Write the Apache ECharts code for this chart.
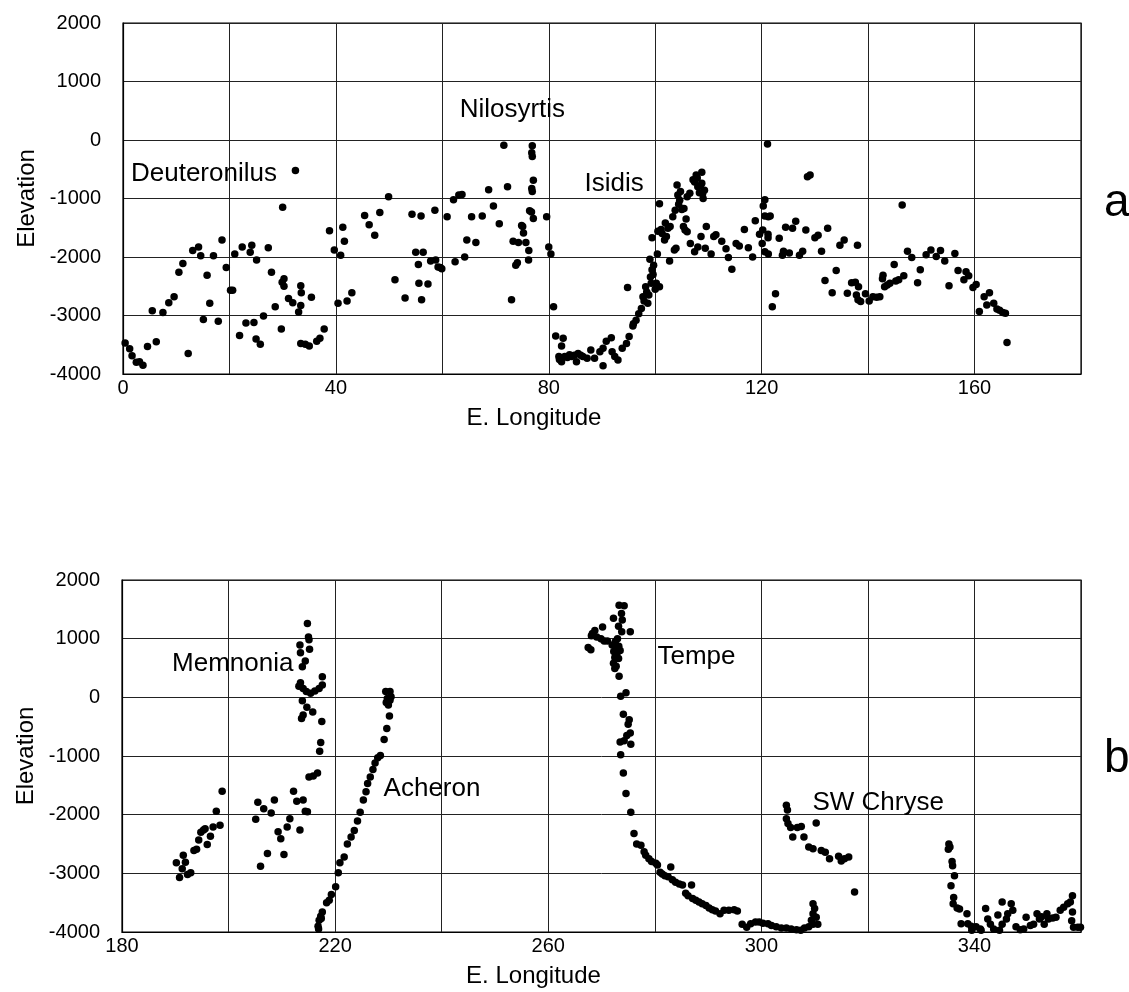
<!DOCTYPE html>
<html>
<head>
<meta charset="utf-8">
<script src="https://cdn.jsdelivr.net/npm/echarts@6/dist/echarts.min.js"></script>
<style>
html,body{margin:0;padding:0;background:#fff;}
#chart{width:1129px;height:992px;}
</style>
</head>
<body>
<div id="chart"></div>
<script>
// ---------- Panel a data: [E. longitude, elevation] ----------
const deuteronilusPts = [
[0.4,-3470],[1.25,-3570],[1.7,-3690],[2.5,-3800],[3.1,-3790],[3.75,-3850],[4.6,-3530],[5.5,-2920],[6.25,-3450],[7.5,-2950],[8.6,-2780],[9.6,-2680],[10.5,-2260],[11.25,-2110],[12.25,-3650],[13.1,-1890],[14.2,-1830],[14.6,-1980],[15.1,-3070],[15.8,-2310],[16.3,-2790],[17,-1980],[17.9,-3100],[18.6,-1710],[19.4,-2180],[20.2,-2570],[20.6,-2570],[21,-1950],[21.9,-3340],[22.4,-1830],[23.1,-3130],[23.9,-1920],[24.2,-1800],[24.6,-3120],[25.1,-2050],[25,-3400],[25.8,-3490],[26.4,-3010],[27.3,-1840],[27.9,-2260],[28.6,-2850],[29.75,-3230],[30,-1150],[29.9,-2430],[30.25,-2370],[30.25,-2500],[31.1,-2710],[31.9,-2780],[32.4,-520],[33,-2940],[33.4,-2490],[33.5,-2610],[33.4,-2830],[33.4,-3480],[34.25,-3490],[35,-3520],[35.4,-2690],[36.4,-3440],[37,-3390],[37.8,-3230],[38.8,-1550],[39.7,-1880]
];
const nilosyrtisPts = [
[40.4,-2790],[40.9,-1970],[41.3,-1490],[41.6,-1730],[42.1,-2750],[43,-2610],[45.4,-1290],[46.25,-1450],[47.3,-1630],[48.25,-1240],[49.9,-970],[51.1,-2390],[53,-2700],[54.3,-1270],[55,-1920],[55.5,-2130],[55.6,-2450],[56,-1300],[56.4,-1920],[56.1,-2730],[57.3,-2460],[57.8,-2070],[58.6,-1200],[58.75,-2050],[59.2,-2170],[59.6,-2180],[59.9,-2200],[60.9,-1310],[62.1,-1020],[62.4,-2080],[63.1,-940],[63.7,-930],[64.2,-2000],[64.6,-1710],[65.5,-1310],[66.3,-1750],[67.5,-1300],[68.7,-850],[69.6,-1130],[70.7,-1430],[71.56,-90],[72.25,-800],[73,-2730],[73.3,-1730],[73.8,-2140],[74.1,-2100],[74.3,-1750],[74.9,-1460],[75.1,-1480],[75.25,-1590],[75.7,-1750],[76.25,-1890],[76.2,-2050],[76.4,-1210],[76.75,-1230],[76.9,-100],[76.8,-220],[76.9,-280],[77.1,-690],[76.8,-830],[76.9,-880],[77.1,-1340],[79.6,-1310],[80,-1830],[80.4,-1950],[80.9,-2850]
];
const isidisPts = [
[81.3,-3350],[82.7,-3390],[82.4,-3520],[81.9,-3700],[82.4,-3790],[82,-3750],[83,-3700],[83.5,-3720],[83.9,-3670],[84.3,-3700],[84.8,-3680],[85.5,-3650],[85.2,-3790],[86,-3680],[86.4,-3700],[87.2,-3730],[87.9,-3590],[88.6,-3730],[89.6,-3620],[90.2,-3560],[90.2,-3860],[90.8,-3440],[91.75,-3380],[91.9,-3620],[92.4,-3700],[93,-3760],[93.8,-3560],[94.6,-3480],[95.1,-3360],[95.8,-3180],[95.9,-3140],[96.4,-3080],[96.9,-2970],[97.4,-2880],[94.8,-2520],[97.7,-2680],[97.9,-2750],[98.2,-2510],[98.4,-2600],[98.6,-2790],[98.8,-2650],[99.1,-2340],[99.25,-2450],[99.4,-2220],[99.6,-2300],[99,-2040],[99.7,-2140],[100,-2550],[100.2,-2450],[100.8,-2510],[100.4,-1950],[100.8,-1090],[99.4,-1670],[100.5,-1560],[101.1,-1530],[101.3,-1600],[101.75,-1710],[101.9,-1420],[102.1,-1650],[102.4,-1510],[102.7,-2070],[102.8,-1480],[103.3,-1310],[103.75,-1200],[103.6,-1880],[103.9,-1850],[104.25,-940],[104.1,-770],[104.4,-1100],[104.75,-880],[104.6,-1030],[105,-1190],[105.4,-1170],[105.3,-1480],[105.6,-1540],[105.8,-1350],[106,-1570],[106,-970],[106.5,-910],[107.1,-680],[107.4,-720],[107.7,-600],[107.9,-650],[108,-800],[108.3,-900],[108.5,-780],[108.75,-550],[108.75,-740],[108.9,-920],[109,-1000],[109.25,-860],[106.6,-1770],[107.4,-1910],[108,-1830],[108.6,-1650],[109.4,-1850],[109.6,-1480],[110.5,-1950],[111,-1650],[111.4,-1620],[112.5,-1730],[113.3,-1860],[113.75,-2010],[114.4,-2210],[115.2,-1770],[115.8,-1810],[116.75,-1530],[117.5,-1840],[118.3,-2000],[118.8,-1380],[119.6,-1610]
];
const eastAPts = [
[120.1,-1770],[120.2,-1540],[120.3,-1130],[120.6,-1020],[120.6,-1300],[120.6,-1910],[121.1,-70],[121.25,-1310],[121.25,-1950],[121.2,-1610],[121.2,-1670],[121.6,-1300],[122,-2850],[122.6,-2630],[123.3,-1680],[123.9,-1970],[124.1,-1900],[124.5,-1490],[125.2,-1930],[125.8,-1510],[126.4,-1390],[127.1,-1970],[127.7,-1900],[128.3,-1540],[128.6,-630],[129.1,-600],[130,-1670],[130.6,-1630],[131.25,-1900],[131.9,-2400],[132.4,-1510],[133.25,-2610],[134,-2230],[134.7,-1800],[135.5,-1710],[136.1,-2620],[136.9,-2440],[137.6,-2430],[137.8,-2650],[138,-1800],[138.2,-2510],[138.1,-2730],[138.6,-2760],[139.5,-2630],[140.2,-2750],[140.9,-2680],[141.6,-2690],[142.2,-2680],[142.7,-2370],[142.8,-2310],[143.1,-2510],[143.6,-2480],[144.1,-2450],[144.9,-2130],[145.2,-2410],[145.75,-2390],[146.4,-1110],[146.7,-2320],[147.4,-1900],[148.2,-2010],[149.3,-2440],[149.8,-2220],[150.9,-1960],[151.8,-1880],[152.8,-1990],[153.6,-1890],[154.4,-2070],[155.2,-2490],[156.3,-1940],[156.9,-2230],[158,-2390],[158.4,-2250],[158.9,-2320],[159.7,-2520],[160.3,-2470],[160.9,-2930],[161.8,-2680],[162.3,-2820],[162.8,-2610],[163.6,-2790],[164.2,-2890],[164.7,-2910],[165.3,-2950],[165.8,-2960],[166.1,-3460]
];

// ---------- Panel b data ----------
const memnoniaPts = [
[190.2,-2820],[190.8,-3070],[191.3,-2920],[191.5,-2690],[191.9,-2810],[192.3,-3020],[192.9,-2990],[193.5,-2610],[194,-2590],[194.4,-2430],[194.8,-2300],[195.3,-2260],[195.6,-2240],[196,-2510],[196.6,-2370],[197.1,-2210],[197.7,-1940],[198.4,-2180],[198.8,-1600],[205.1,-2080],[205.5,-1790],[206,-2880],[206.6,-1900],[207.3,-2660],[208,-1970],[208.6,-1750],[209.3,-2290],[209.8,-2410],[210.4,-2680],[211,-2210],[211.5,-2070],[212.2,-1600],[212.8,-1770],[213.4,-2260],[214,-1750],[214.4,-1940],[214.8,-1950],[214.8,1260],[215,1030],[215.1,980],[215.2,820],[213.4,890],[213.5,760],[214.4,620],[213.85,520],[213.5,250],[213.2,190],[214,150],[214.6,100],[215.4,70],[216.2,110],[217,150],[217.6,210],[217.6,350],[213.85,-60],[214.7,-170],[214,-300],[213.7,-360],[215.8,-250],[217.5,-410],[217.3,-770],[217.1,-920],[215.1,-1360],[215.9,-1340],[216.7,-1290]
];
const acheronPts = [
[216.8,-3900],[216.9,-3950],[217,-3800],[217.3,-3730],[217.4,-3770],[217.6,-3660],[218.4,-3500],[218.9,-3460],[219.3,-3360],[220.1,-3230],[220.6,-2990],[220.9,-2820],[221.7,-2720],[222.3,-2500],[223,-2380],[223.6,-2270],[224.2,-2110],[224.7,-1960],[225.3,-1750],[225.8,-1610],[226.1,-1470],[226.6,-1360],[227.1,-1230],[227.5,-1120],[228,-1030],[228.5,-990],[229.2,-720],[229.7,-530],[230.2,-320],[230,-130],[229.6,-90],[230.3,-50],[229.5,100],[230.3,100],[230.5,10],[229.8,-20]
];
const tempePts = [
[273.3,1570],[274.25,1560],[273.75,1430],[272.25,1350],[273.9,1320],[273.2,1210],[273.8,1120],[275.4,1120],[270.2,1200],[268.75,1140],[268.3,1090],[269.1,1030],[268.1,1050],[269.9,1000],[270.5,960],[271.1,960],[272,890],[272.6,860],[272.6,950],[273,1000],[273.25,870],[267.5,850],[268,810],[272.3,780],[272.9,750],[272.8,720],[273.5,800],[272.5,680],[273.2,660],[272.25,580],[272.75,530],[272.5,490],[273.3,360],[274.6,80],[273.6,20],[274.1,-290],[275.2,-380],[275,-460],[275.4,-610],[274.75,-650],[273.5,-760],[274.25,-740],[275.5,-800],[273.6,-980],[274.1,-1290],[274.6,-1640],[275.5,-1960],[276.1,-2320],[276.6,-2500],[277.4,-2520],[278,-2630],[278.3,-2690],[278.9,-2750],[279.4,-2800],[280.2,-2830],[280.5,-2860],[281,-2980],[281.4,-3010],[281.9,-3040],[282.5,-3060],[283,-2890],[283.3,-3110],[283.9,-3150],[284.6,-3180],[285.2,-3200],[285.8,-3340],[286.25,-3380],[286.9,-3200],[287.1,-3430],[287.7,-3460],[288.3,-3490],[288.9,-3520],[289.6,-3550],[290.2,-3590],[290.8,-3620],[291.4,-3640],[292.25,-3690],[293,-3630],[293.9,-3630],[294.9,-3620],[295.5,-3640]
];
const chrysePts = [
[296.4,-3870],[297.25,-3920],[298,-3860],[298.9,-3830],[299.6,-3830],[300.3,-3850],[301.25,-3860],[301.9,-3890],[302.8,-3910],[303.75,-3930],[304.7,-3930],[305.6,-3950],[306.6,-3960],[307.4,-3970],[308.1,-3930],[308.9,-3910],[309.4,-3800],[309.7,-3690],[310,-3600],[309.7,-3520],[310.3,-3750],[310.6,-3870],[309.7,-3870],[304.7,-1840],[304.9,-1920],[304.7,-2070],[305,-2150],[305.5,-2220],[305.9,-2380],[306.75,-2220],[307.5,-2200],[308,-2380],[310.3,-2140],[308.9,-2550],[309.7,-2580],[311.25,-2610],[312,-2640],[312.8,-2750],[314.5,-2710],[315,-2790],[315.6,-2750],[316.4,-2720],[317.5,-3320]
];
const eastBPts = [
[335.2,-2500],[335.1,-2590],[335.4,-2550],[335.8,-2800],[335.9,-2870],[336.25,-3040],[335.6,-3210],[336.1,-3410],[336,-3520],[336.75,-3590],[337.2,-3610],[337.5,-3860],[338.6,-3690],[338.75,-3860],[339.4,-3900],[339.5,-3970],[340.3,-3910],[341.1,-3950],[341.25,-3970],[342.1,-3600],[342.5,-3780],[343,-3870],[343.6,-3950],[344.4,-3710],[344.7,-3970],[345.2,-3490],[345.2,-3870],[346,-3780],[346.25,-3690],[346.9,-3520],[347.2,-3630],[347.8,-3910],[348.6,-3960],[349.25,-3950],[349.7,-3750],[350.5,-3890],[351.1,-3870],[351.75,-3690],[352.2,-3780],[352.6,-3740],[353.1,-3870],[353.6,-3690],[353.9,-3780],[354.7,-3760],[355.3,-3750],[356.1,-3630],[356.75,-3580],[357.5,-3520],[358,-3490],[358.4,-3380],[358.4,-3660],[358.25,-3810],[358.6,-3920],[359.4,-3920],[359.9,-3920]
];

// ---------- Annotations: [lon, elev, text] ----------
const labelsA = [[1.5,-580,'Deuteronilus'],[63.25,520,'Nilosyrtis'],[86.7,-750,'Isidis']];
const labelsB = [[189.4,570,'Memnonia'],[229.1,-1560,'Acheron'],[280.5,690,'Tempe'],[309.6,-1800,'SW Chryse']];

// ---------- Axes ----------
const xRangeA = [0, 180];
const xRangeB = [180, 360];
const yRange = [-4000, 2000];
const xStep = 20, xLabelStep = 40, yStep = 1000;
const panelLetters = ['a', 'b'];

const FONT = '"Liberation Sans", Arial, Helvetica, sans-serif';

function xAxisDef(idx, range) {
  return {
    type: 'value', gridIndex: idx, min: range[0], max: range[1], interval: xStep,
    name: 'E. Longitude', nameLocation: 'middle', nameGap: 32,
    nameTextStyle: { fontFamily: FONT, fontSize: 24, color: '#000', padding: [0, 136, 0, 0] },
    axisLine: { show: true, onZero: false, lineStyle: { color: '#000', width: 1.2 } },
    axisTick: { show: false },
    axisLabel: { fontFamily: FONT, fontSize: 20, color: '#000', margin: 4,
      formatter: v => ((v - range[0]) % xLabelStep === 0 ? String(v) : '') },
    splitLine: { show: true, lineStyle: { color: '#222', width: 1 } }
  };
}
function yAxisDef(idx) {
  return {
    type: 'value', gridIndex: idx, min: yRange[0], max: yRange[1], interval: yStep,
    name: 'Elevation', nameLocation: 'middle', nameGap: 82,
    nameTextStyle: { fontFamily: FONT, fontSize: 24, color: '#000' },
    axisLine: { show: true, onZero: false, lineStyle: { color: '#000', width: 1.2 } },
    axisTick: { show: false },
    axisLabel: { fontFamily: FONT, fontSize: 20, color: '#000', margin: 22, formatter: v => String(v) },
    splitLine: { show: true, lineStyle: { color: '#222', width: 1 } }
  };
}
function dots(idx, pts) {
  return { type: 'scatter', xAxisIndex: idx, yAxisIndex: idx, data: pts,
    symbol: 'circle', symbolSize: 7.5, itemStyle: { color: '#000', opacity: 1 }, silent: true };
}
function notes(idx, arr) {
  return { type: 'scatter', xAxisIndex: idx, yAxisIndex: idx, symbolSize: 0, silent: true,
    itemStyle: { opacity: 1 },
    data: arr.map(a => ({ value: [a[0], a[1]], name: a[2] })),
    label: { show: true, position: 'right', distance: 0, formatter: p => p.name,
      fontFamily: FONT, fontSize: 26, color: '#000', opacity: 1 } };
}

const chart = echarts.init(document.getElementById('chart'), null, { renderer: 'canvas' });
chart.setOption({
  animation: false,
  backgroundColor: '#fff',
  title: [
    { text: panelLetters[0], left: 1099, top: 175, textStyle: { fontFamily: FONT, fontSize: 46, fontWeight: 'normal', color: '#000' } },
    { text: panelLetters[1], left: 1099, top: 731, textStyle: { fontFamily: FONT, fontSize: 46, fontWeight: 'normal', color: '#000' } }
  ],
  grid: [
    { left: 123, top: 23, width: 958, height: 351, show: true, borderColor: '#000', borderWidth: 1.2, backgroundColor: 'transparent' },
    { left: 122, top: 580, width: 959, height: 352, show: true, borderColor: '#000', borderWidth: 1.2, backgroundColor: 'transparent' }
  ],
  xAxis: [xAxisDef(0, xRangeA), xAxisDef(1, xRangeB)],
  yAxis: [yAxisDef(0), yAxisDef(1)],
  series: [
    dots(0, deuteronilusPts), dots(0, nilosyrtisPts), dots(0, isidisPts), dots(0, eastAPts),
    dots(1, memnoniaPts), dots(1, acheronPts), dots(1, tempePts), dots(1, chrysePts), dots(1, eastBPts),
    notes(0, labelsA), notes(1, labelsB)
  ]
});
</script>
</body>
</html>
